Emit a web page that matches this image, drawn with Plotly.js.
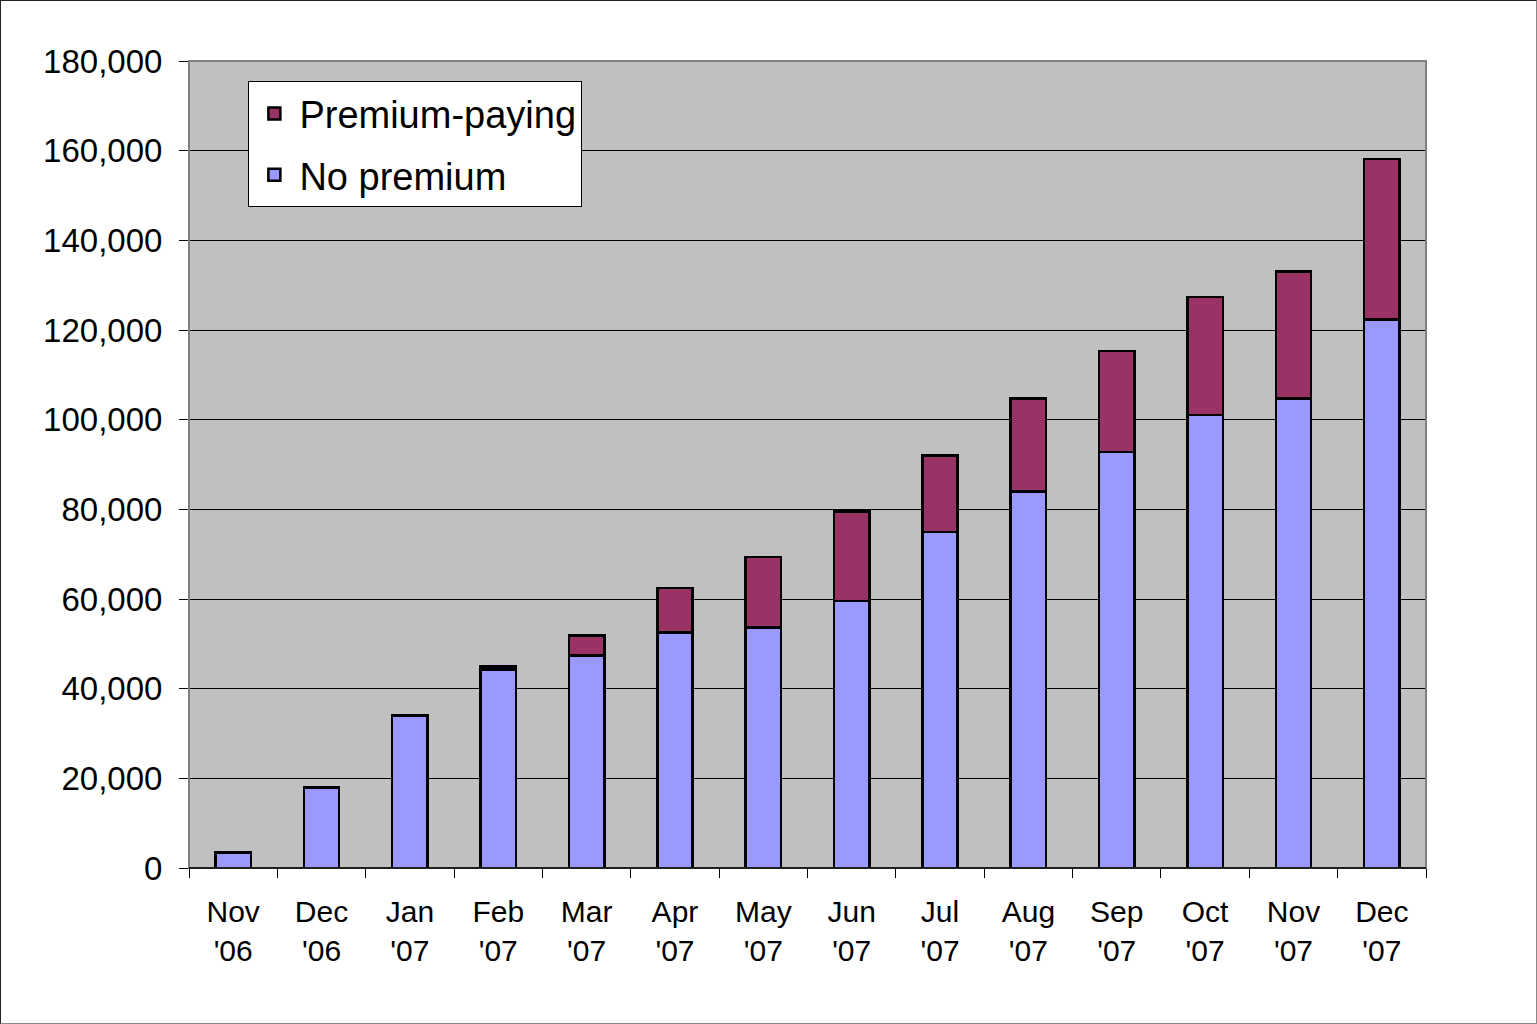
<!DOCTYPE html>
<html>
<head>
<meta charset="utf-8">
<script src="https://cdn.plot.ly/plotly-3.0.1.min.js"></script>
<style>
  html, body { margin: 0; padding: 0; background: #fff; }
  #wrap { width: 1537px; height: 1024px; box-sizing: border-box; border: 1px solid #222; border-right-color: #888; border-bottom-color: #888; overflow: hidden; }
  #chart { width: 1535px; height: 1022px; }
</style>
</head>
<body>
<div id="wrap"><div id="chart"></div></div>
<script>
const months = ["Nov<br>'06", "Dec<br>'06", "Jan<br>'07", "Feb<br>'07", "Mar<br>'07", "Apr<br>'07", "May<br>'07",
                "Jun<br>'07", "Jul<br>'07", "Aug<br>'07", "Sep<br>'07", "Oct<br>'07", "Nov<br>'07", "Dec<br>'07"];
const noPremium = [3500, 18000, 34000, 44300, 47400, 52500, 53700, 59500, 75000, 84000, 92800, 101000, 104700, 122300];
const premiumPaying = [0, 0, 0, 700, 4500, 10000, 15700, 20000, 17000, 20700, 22500, 26400, 28300, 35800];
const yTicks = [0, 20000, 40000, 60000, 80000, 100000, 120000, 140000, 160000, 180000];

const lineStyle = { color: '#000000', width: 2.5 };
const traces = [
  { type: 'bar', name: 'No premium', x: months, y: noPremium, legendgroup: 'np', legendrank: 2,
    marker: { color: '#9999FF', line: lineStyle } },
  { type: 'bar', name: 'Premium-paying', x: months, y: premiumPaying, legendgroup: 'pp', legendrank: 1,
    marker: { color: '#993366', line: lineStyle } }
];

const font = { family: 'Arial, "Liberation Sans", sans-serif', color: '#000000' };

const layout = {
  width: 1535, height: 1022,
  margin: { l: 188, r: 110, t: 60, b: 155, pad: 0 },
  paper_bgcolor: '#FFFFFF',
  plot_bgcolor: '#C0C0C0',
  barmode: 'stack',
  bargap: 0.6,
  showlegend: true,
  font: Object.assign({ size: 30 }, font),
  legend: {
    x: 0.048, y: 0.975, xanchor: 'left', yanchor: 'top',
    bgcolor: '#FFFFFF', bordercolor: '#000000', borderwidth: 1,
    traceorder: 'grouped',
    tracegroupgap: 9,
    font: Object.assign({ size: 38 }, font),
    itemwidth: 40
  },
  xaxis: {
    type: 'category',
    tickson: 'boundaries',
    ticks: 'outside', ticklen: 9, tickcolor: '#000000', tickwidth: 1,
    ticklabelstandoff: 17,
    showline: true, linecolor: '#000000', linewidth: 1,
    showgrid: false,
    tickfont: Object.assign({ size: 30 }, font),
    automargin: false
  },
  yaxis: {
    range: [0, 180000],
    tickvals: yTicks,
    tickformat: ',d',
    ticks: 'outside', ticklen: 9, tickcolor: '#000000', tickwidth: 1,
    ticklabelstandoff: 10,
    showline: false,
    showgrid: true, gridcolor: '#000000', gridwidth: 1,
    zeroline: false,
    tickfont: Object.assign({ size: 33 }, font),
    automargin: false
  },
  shapes: [
    { type: 'rect', xref: 'paper', yref: 'paper', x0: 0, x1: 1, y0: 0, y1: 1,
      line: { color: '#808080', width: 2 }, layer: 'above' },
    { type: 'line', xref: 'paper', yref: 'paper', x0: 0, x1: 1, y0: 0, y1: 0,
      line: { color: '#000000', width: 1.5 }, layer: 'above' }
  ]
};

Plotly.newPlot('chart', traces, layout, { displayModeBar: false, staticPlot: true });
</script>
</body>
</html>
